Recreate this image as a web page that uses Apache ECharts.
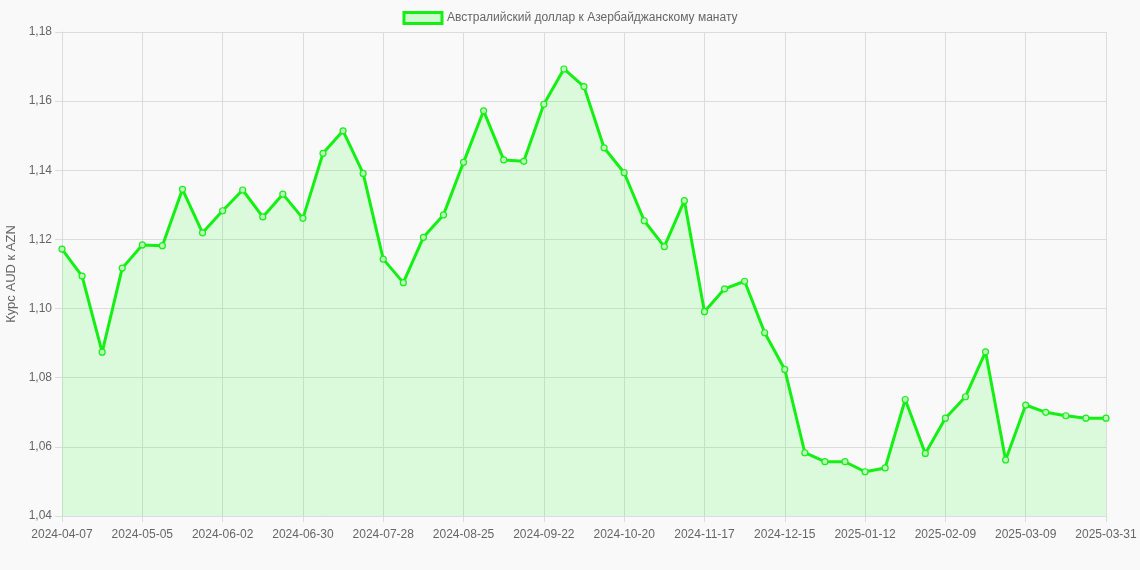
<!DOCTYPE html>
<html lang="ru">
<head>
    <meta charset="UTF-8">
    <title>Курс AUD к AZN</title>
    <script src="https://cdn.jsdelivr.net/npm/echarts/dist/echarts.min.js"></script>
    <style>
        html, body {
            margin: 0;
            padding: 0;
            background-color: #f9f9f9;
        }
        #chart {
            width: 1140px;
            height: 570px;
        }
    </style>
</head>
<body>
    <div id="chart"></div>
    <script>
        // даты (недельные точки)
        let dates = [
            '2024-04-07', '2024-04-14', '2024-04-21', '2024-04-28', '2024-05-05', '2024-05-12', '2024-05-19', '2024-05-26',
            '2024-06-02', '2024-06-09', '2024-06-16', '2024-06-23', '2024-06-30', '2024-07-07', '2024-07-14', '2024-07-21',
            '2024-07-28', '2024-08-04', '2024-08-11', '2024-08-18', '2024-08-25', '2024-09-01', '2024-09-08', '2024-09-15',
            '2024-09-22', '2024-09-29', '2024-10-06', '2024-10-13', '2024-10-20', '2024-10-27', '2024-11-03', '2024-11-10',
            '2024-11-17', '2024-11-24', '2024-12-01', '2024-12-08', '2024-12-15', '2024-12-22', '2024-12-29', '2025-01-05',
            '2025-01-12', '2025-01-19', '2025-01-26', '2025-02-02', '2025-02-09', '2025-02-16', '2025-02-23', '2025-03-02',
            '2025-03-09', '2025-03-16', '2025-03-23', '2025-03-30', '2025-03-31'
        ];

        let rates = [
            1.1172, 1.1094, 1.0874, 1.1117, 1.1184, 1.1182, 1.1345, 1.1219,
            1.1283, 1.1343, 1.1265, 1.1331, 1.1261, 1.1449, 1.1514, 1.1391,
            1.1143, 1.1075, 1.1206, 1.1271, 1.1423, 1.1572, 1.1430, 1.1426,
            1.1591, 1.1693, 1.1642, 1.1465, 1.1393, 1.1254, 1.1179, 1.1312,
            1.0991, 1.1057, 1.1079, 1.0930, 1.0824, 1.0583, 1.0557, 1.0557,
            1.0528, 1.0539, 1.0737, 1.0581, 1.0683, 1.0745, 1.0875, 1.0562,
            1.0721, 1.0700, 1.0690, 1.0683, 1.0683
        ];

        let yMin = 1.04;
        let yMax = 1.18;
        let yStep = 0.02;

        let seriesName = 'Австралийский доллар к Азербайджанскому манату';
        let axisName = 'Курс AUD к AZN';

        let green = '#14f014';
        let fill = 'rgba(0, 255, 0, 0.17)';
        let textColor = '#666666';
        let gridColor = '#dcdcdc';

        // подписи каждые 4 недели + последняя дата
        let showTick = function (index) { return index % 4 === 0 || index === dates.length - 1; };

        let option = {
            backgroundColor: '#f9f9f9',
            animation: false,
            textStyle: { fontFamily: 'Arial, "Liberation Sans", sans-serif' },
            legend: {
                top: 6,
                left: 'center',
                itemWidth: 38,
                itemHeight: 11,
                itemGap: 10,
                textStyle: { color: textColor, fontSize: 12 },
                data: [{
                    name: seriesName,
                    icon: 'rect',
                    itemStyle: { color: fill, borderColor: green, borderWidth: 3 }
                }]
            },
            grid: {
                left: 62,
                right: 34,
                top: 32,
                bottom: 54,
                containLabel: false,
                outerBoundsMode: 'none'
            },
            xAxis: {
                type: 'category',
                boundaryGap: false,
                data: dates,
                axisLine: { show: true, lineStyle: { color: gridColor } },
                axisTick: { show: true, length: 6, lineStyle: { color: gridColor }, interval: showTick },
                axisLabel: { color: textColor, fontSize: 12, margin: 13, interval: showTick },
                splitLine: { show: true, lineStyle: { color: gridColor }, interval: showTick }
            },
            yAxis: {
                type: 'value',
                min: yMin,
                max: yMax,
                interval: yStep,
                name: axisName,
                nameLocation: 'middle',
                nameGap: 44,
                nameTextStyle: { color: textColor, fontSize: 13 },
                axisLine: { show: true, lineStyle: { color: gridColor } },
                axisTick: { show: true, length: 7, lineStyle: { color: gridColor } },
                axisLabel: {
                    color: textColor,
                    fontSize: 12,
                    margin: 10,
                    formatter: function (v) { return v.toFixed(2).replace('.', ','); }
                },
                splitLine: { show: true, lineStyle: { color: gridColor } }
            },
            series: [{
                name: seriesName,
                type: 'line',
                data: rates,
                symbol: 'circle',
                symbolSize: 6,
                showAllSymbol: true,
                lineStyle: { color: green, width: 3 },
                itemStyle: { color: 'rgba(190, 245, 190, 1)', borderColor: green, borderWidth: 1.2 },
                areaStyle: { color: fill, origin: 'start' }
            }]
        };

        let chart = echarts.init(document.getElementById('chart'));
        chart.setOption(option);
    </script>
</body>
</html>
